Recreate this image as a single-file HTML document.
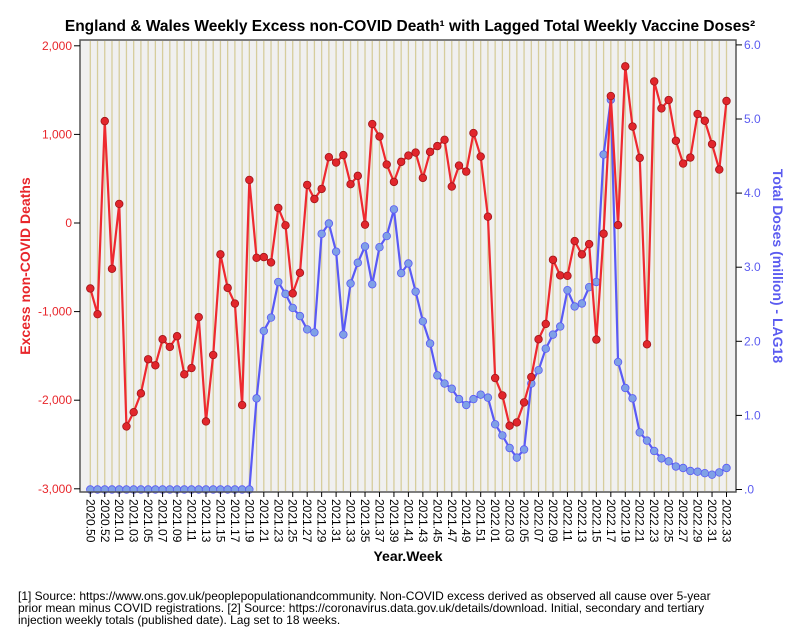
<!DOCTYPE html>
<html><head><meta charset="utf-8"><style>
body{margin:0;background:#fff;font-family:"Liberation Sans",sans-serif;}
svg{display:block}
</style></head><body>
<svg id="c" width="804" height="637" xmlns="http://www.w3.org/2000/svg">
<text x="410" y="31" text-anchor="middle" font-size="15.5" font-weight="bold" fill="#000">England &amp; Wales Weekly Excess non-COVID Death¹ with Lagged Total Weekly Vaccine Doses²</text>
<rect x="80" y="40" width="656" height="452" fill="#f0f0f0"/>
<g id="grid"></g>
<g id="lines"></g>
<rect x="80" y="40" width="656" height="452" fill="none" stroke="#555" stroke-width="1.5"/>
<g id="axes"></g>
<text transform="translate(30,266) rotate(-90)" text-anchor="middle" font-size="14" font-weight="bold" fill="#e8262b">Excess non-COVID Deaths</text>
<text transform="translate(773,266) rotate(90)" text-anchor="middle" font-size="14" font-weight="bold" fill="#5b5bf0">Total Doses (million) - LAG18</text>
<text x="408" y="561" text-anchor="middle" font-size="14" font-weight="bold" fill="#000">Year.Week</text>
<g font-size="12" fill="#000">
<text x="18" y="600">[1] Source: https://www.ons.gov.uk/peoplepopulationandcommunity. Non-COVID excess derived as observed all cause over 5-year</text>
<text x="18" y="612">prior mean minus COVID registrations. [2] Source: https://coronavirus.data.gov.uk/details/download. Initial, secondary and tertiary</text>
<text x="18" y="624">injection weekly totals (published date). Lag set to 18 weeks.</text>
</g>
</svg>
<script>
const excessDeaths=[-739,-1029,1150,-517,215,-2296,-2135,-1923,-1538,-1606,-1312,-1399,-1278,-1708,-1637,-1063,-2240,-1490,-354,-732,-909,-2055,486,-393,-385,-445,170,-26,-795,-562,430,271,385,743,682,766,438,532,-19,1117,976,660,464,690,761,795,509,803,868,939,411,648,580,1015,750,71,-1750,-1946,-2288,-2251,-2025,-1739,-1312,-1139,-415,-592,-596,-204,-354,-238,-1316,-121,1433,-23,1768,1089,735,-1369,1598,1293,1388,928,671,739,1230,1154,890,603,1377];
const doses=[0,0,0,0,0,0,0,0,0,0,0,0,0,0,0,0,0,0,0,0,0,0,0,1.23,2.14,2.32,2.80,2.64,2.45,2.34,2.16,2.12,3.45,3.59,3.21,2.09,2.78,3.06,3.28,2.77,3.27,3.42,3.78,2.92,3.05,2.67,2.27,1.97,1.54,1.43,1.36,1.22,1.14,1.22,1.28,1.24,0.88,0.73,0.56,0.43,0.54,1.43,1.61,1.90,2.09,2.20,2.69,2.47,2.51,2.73,2.80,4.52,5.26,1.72,1.37,1.23,0.77,0.66,0.52,0.42,0.38,0.31,0.29,0.25,0.24,0.22,0.20,0.23,0.29];
const leftTicks=[2000,1000,0,-1000,-2000,-3000];
const leftTickLabels=["2,000","1,000","0","-1,000","-2,000","-3,000"];
const rightTicks=[6,5,4,3,2,1,0];
const rightTickLabels=["6.0","5.0","4.0","3.0","2.0","1.0",".0"];
const weeks=[];
[[2020,50,53],[2021,1,52],[2022,1,33]].forEach(([y,a,b])=>{for(let w=a;w<=b;w++)weeks.push(y+"."+String(w).padStart(2,"0"));});

const NS="http://www.w3.org/2000/svg";
const xS=i=>90.3+i*(726.5-90.3)/(weeks.length-1);
const yL=v=>223-(v)*0.0886;
const yR=v=>489.5-v*74.1;
function mk(tag,attrs,parent){const e=document.createElementNS(NS,tag);for(const k in attrs)e.setAttribute(k,attrs[k]);parent.appendChild(e);return e;}
const grid=document.getElementById('grid'),lines=document.getElementById('lines'),axes=document.getElementById('axes');
weeks.forEach((w,i)=>{
  const g=mk('line',{x1:xS(i),x2:xS(i),y1:41,y2:491,stroke:'#d6cd9c','stroke-width':1.3},grid);
  
  
  if(i%2===0){
    const t=mk('line',{x1:xS(i),x2:xS(i),y1:492,y2:497,stroke:'#000'},axes);
    
    
    const tx=mk('text',{transform:`translate(${xS(i)-4},499) rotate(90)`,'font-size':12,fill:'#000'},axes);
    tx.textContent=w;
    
    
  }
});
leftTicks.forEach((v,i)=>{
  mk('line',{x1:74,x2:80,y1:yL(v),y2:yL(v),stroke:'#000'},axes);
  const t=mk('text',{x:72,y:yL(v)+4,'text-anchor':'end','font-size':12,fill:'#e8262b'},axes);
  t.textContent=leftTickLabels[i];
  
  
});
rightTicks.forEach((v,i)=>{
  mk('line',{x1:736,x2:742,y1:yR(v),y2:yR(v),stroke:'#000'},axes);
  const t=mk('text',{x:744,y:yR(v)+4,'font-size':12,fill:'#5b5bf0'},axes);
  t.textContent=rightTickLabels[i];
  
  
});
function series(vals,ys,stroke,fill,ptStroke,name){
  const p=mk('polyline',{points:vals.map((v,i)=>xS(i)+','+ys(v)).join(' '),fill:'none',stroke:stroke,'stroke-width':2.2,'stroke-linejoin':'round'},lines);
  
  
  vals.forEach((v,i)=>{
    const c=mk('circle',{cx:xS(i),cy:ys(v),r:3.8,fill:fill,stroke:ptStroke,'stroke-width':0.8},lines);
    
    
  });
}
series(doses,yR,'#5a5af5','#7fa0e6','#5a5af5','doses');
series(excessDeaths,yL,'#ee2a30','#e1262c','#a01418','excess-deaths');
</script>
</body></html>
